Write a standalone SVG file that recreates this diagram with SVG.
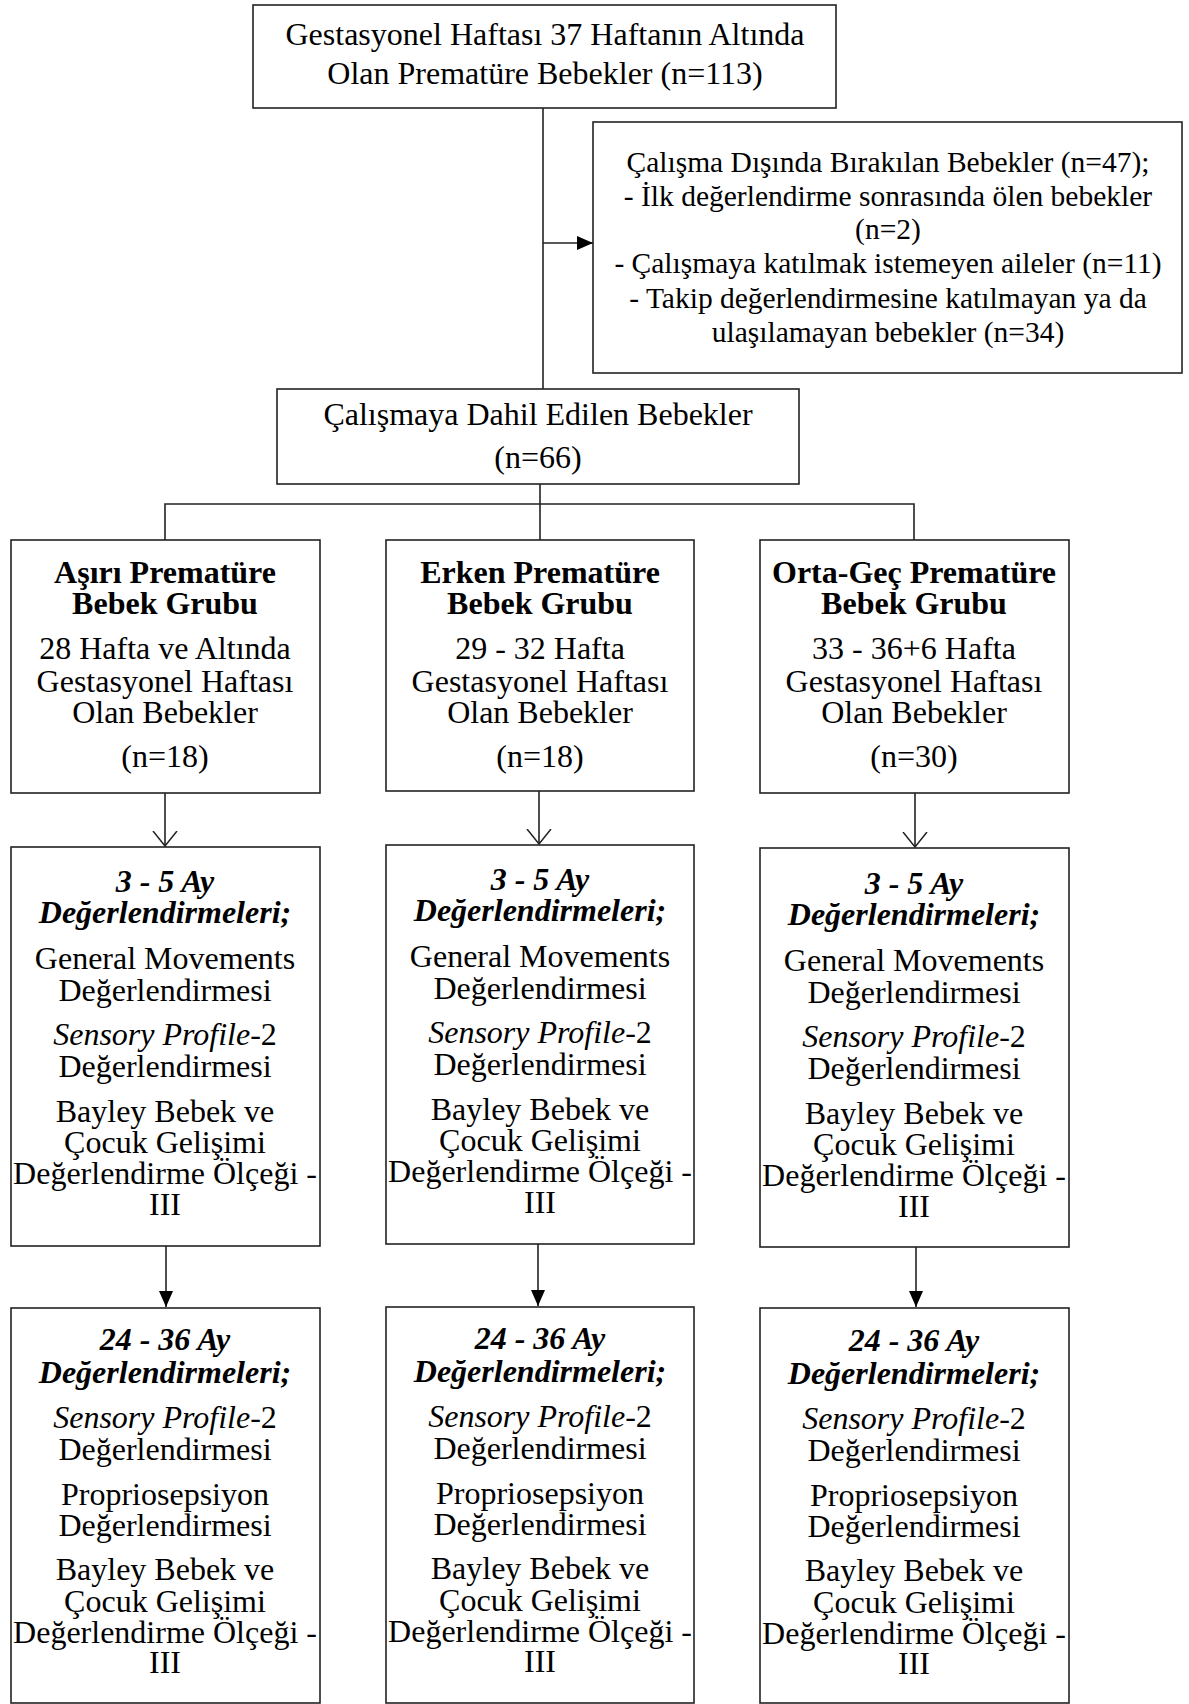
<svg xmlns="http://www.w3.org/2000/svg" width="1189" height="1704" viewBox="0 0 1189 1704">
<defs>
<style>
.box{fill:#fff;stroke:#222;stroke-width:1.6}
.ln{fill:none;stroke:#222;stroke-width:1.6}
text{font-family:"Liberation Serif","Times New Roman",serif;font-size:32px;fill:#000;text-anchor:middle}
.s{font-size:29.5px}
.b{font-weight:bold}
.bi{font-weight:bold;font-style:italic}
.i{font-style:italic}
</style>
<marker id="filled" viewBox="0 0 16 14" refX="16" refY="7" markerWidth="16" markerHeight="14" markerUnits="userSpaceOnUse" orient="auto">
<path d="M0,0 L16,7 L0,14 Z" fill="#000"/>
</marker>
<marker id="open" viewBox="0 0 16 26" refX="15" refY="13" markerWidth="16" markerHeight="26" markerUnits="userSpaceOnUse" orient="auto">
<path d="M0,1 L15,13 L0,25" fill="none" stroke="#222" stroke-width="1.5"/>
</marker>
</defs>
<rect width="1189" height="1704" fill="#fff"/>

<g id="connectors">
<line class="ln" x1="543" y1="108" x2="543" y2="389"/>
<line class="ln" x1="543" y1="243" x2="593" y2="243" marker-end="url(#filled)"/>
<polyline class="ln" points="540,484 540,504"/>
<polyline class="ln" points="165,540 165,504 914,504 914,540"/>
<line class="ln" x1="540" y1="504" x2="540" y2="540"/>
<line class="ln" x1="165" y1="793" x2="165" y2="846" marker-end="url(#open)"/>
<line class="ln" x1="539" y1="791" x2="539" y2="844" marker-end="url(#open)"/>
<line class="ln" x1="915" y1="793" x2="915" y2="847" marker-end="url(#open)"/>
<line class="ln" x1="166" y1="1246" x2="166" y2="1307" marker-end="url(#filled)"/>
<line class="ln" x1="538" y1="1244" x2="538" y2="1306" marker-end="url(#filled)"/>
<line class="ln" x1="916" y1="1247" x2="916" y2="1307" marker-end="url(#filled)"/>
</g>

<g id="n-top">
<rect class="box" x="253" y="5" width="583" height="103"/>
<text x="545" y="45">Gestasyonel Haftası 37 Haftanın Altında</text>
<text x="545" y="84">Olan Prematüre Bebekler (n=113)</text>
</g>

<g id="n-excluded">
<rect class="box" x="593" y="122" width="589" height="251"/>
<text class="s" x="888" y="172">Çalışma Dışında Bırakılan Bebekler (n=47);</text>
<text class="s" x="888" y="206">- İlk değerlendirme sonrasında ölen bebekler</text>
<text class="s" x="888" y="239">(n=2)</text>
<text class="s" x="888" y="273">- Çalışmaya katılmak istemeyen aileler (n=11)</text>
<text class="s" x="888" y="308">- Takip değerlendirmesine katılmayan ya da</text>
<text class="s" x="888" y="342">ulaşılamayan bebekler (n=34)</text>
</g>

<g id="n-included">
<rect class="box" x="277" y="389" width="522" height="95"/>
<text x="538" y="425">Çalışmaya Dahil Edilen Bebekler</text>
<text x="538" y="468">(n=66)</text>
</g>

<g id="n-g1">
<rect class="box" x="11" y="540" width="309" height="253"/>
<text class="b" x="165" y="583">Aşırı Prematüre</text>
<text class="b" x="165" y="614">Bebek Grubu</text>
<text x="165" y="659">28 Hafta ve Altında</text>
<text x="165" y="692">Gestasyonel Haftası</text>
<text x="165" y="723">Olan Bebekler</text>
<text x="165" y="767">(n=18)</text>
</g>

<g id="n-g2">
<rect class="box" x="386" y="540" width="308" height="251"/>
<text class="b" x="540" y="583">Erken Prematüre</text>
<text class="b" x="540" y="614">Bebek Grubu</text>
<text x="540" y="659">29 - 32 Hafta</text>
<text x="540" y="692">Gestasyonel Haftası</text>
<text x="540" y="723">Olan Bebekler</text>
<text x="540" y="767">(n=18)</text>
</g>

<g id="n-g3">
<rect class="box" x="760" y="540" width="309" height="253"/>
<text class="b" x="914" y="583">Orta-Geç Prematüre</text>
<text class="b" x="914" y="614">Bebek Grubu</text>
<text x="914" y="659">33 - 36+6 Hafta</text>
<text x="914" y="692">Gestasyonel Haftası</text>
<text x="914" y="723">Olan Bebekler</text>
<text x="914" y="767">(n=30)</text>
</g>

<g id="n-e1">
<rect class="box" x="11" y="847" width="309" height="399"/>
<text class="bi" x="165" y="892">3 - 5 Ay</text>
<text class="bi" x="165" y="923">Değerlendirmeleri;</text>
<text x="165" y="969">General Movements</text>
<text x="165" y="1001">Değerlendirmesi</text>
<text x="165" y="1045"><tspan class="i">Sensory Profile</tspan>-2</text>
<text x="165" y="1077">Değerlendirmesi</text>
<text x="165" y="1122">Bayley Bebek ve</text>
<text x="165" y="1153">Çocuk Gelişimi</text>
<text x="165" y="1184">Değerlendirme Ölçeği -</text>
<text x="165" y="1215">III</text>
</g>

<g id="n-e2">
<rect class="box" x="386" y="845" width="308" height="399"/>
<text class="bi" x="540" y="890">3 - 5 Ay</text>
<text class="bi" x="540" y="921">Değerlendirmeleri;</text>
<text x="540" y="967">General Movements</text>
<text x="540" y="999">Değerlendirmesi</text>
<text x="540" y="1043"><tspan class="i">Sensory Profile</tspan>-2</text>
<text x="540" y="1075">Değerlendirmesi</text>
<text x="540" y="1120">Bayley Bebek ve</text>
<text x="540" y="1151">Çocuk Gelişimi</text>
<text x="540" y="1182">Değerlendirme Ölçeği -</text>
<text x="540" y="1213">III</text>
</g>

<g id="n-e3">
<rect class="box" x="760" y="848" width="309" height="399"/>
<text class="bi" x="914" y="894">3 - 5 Ay</text>
<text class="bi" x="914" y="925">Değerlendirmeleri;</text>
<text x="914" y="971">General Movements</text>
<text x="914" y="1003">Değerlendirmesi</text>
<text x="914" y="1047"><tspan class="i">Sensory Profile</tspan>-2</text>
<text x="914" y="1079">Değerlendirmesi</text>
<text x="914" y="1124">Bayley Bebek ve</text>
<text x="914" y="1155">Çocuk Gelişimi</text>
<text x="914" y="1186">Değerlendirme Ölçeği -</text>
<text x="914" y="1217">III</text>
</g>

<g id="n-f1">
<rect class="box" x="11" y="1308" width="309" height="395"/>
<text class="bi" x="165" y="1350">24 - 36 Ay</text>
<text class="bi" x="165" y="1383">Değerlendirmeleri;</text>
<text x="165" y="1428"><tspan class="i">Sensory Profile</tspan>-2</text>
<text x="165" y="1460">Değerlendirmesi</text>
<text x="165" y="1505">Propriosepsiyon</text>
<text x="165" y="1536">Değerlendirmesi</text>
<text x="165" y="1580">Bayley Bebek ve</text>
<text x="165" y="1612">Çocuk Gelişimi</text>
<text x="165" y="1643">Değerlendirme Ölçeği -</text>
<text x="165" y="1673">III</text>
</g>

<g id="n-f2">
<rect class="box" x="386" y="1307" width="308" height="396"/>
<text class="bi" x="540" y="1349">24 - 36 Ay</text>
<text class="bi" x="540" y="1382">Değerlendirmeleri;</text>
<text x="540" y="1427"><tspan class="i">Sensory Profile</tspan>-2</text>
<text x="540" y="1459">Değerlendirmesi</text>
<text x="540" y="1504">Propriosepsiyon</text>
<text x="540" y="1535">Değerlendirmesi</text>
<text x="540" y="1579">Bayley Bebek ve</text>
<text x="540" y="1611">Çocuk Gelişimi</text>
<text x="540" y="1642">Değerlendirme Ölçeği -</text>
<text x="540" y="1672">III</text>
</g>

<g id="n-f3">
<rect class="box" x="760" y="1308" width="309" height="395"/>
<text class="bi" x="914" y="1351">24 - 36 Ay</text>
<text class="bi" x="914" y="1384">Değerlendirmeleri;</text>
<text x="914" y="1429"><tspan class="i">Sensory Profile</tspan>-2</text>
<text x="914" y="1461">Değerlendirmesi</text>
<text x="914" y="1506">Propriosepsiyon</text>
<text x="914" y="1537">Değerlendirmesi</text>
<text x="914" y="1581">Bayley Bebek ve</text>
<text x="914" y="1613">Çocuk Gelişimi</text>
<text x="914" y="1644">Değerlendirme Ölçeği -</text>
<text x="914" y="1674">III</text>
</g>
</svg>
